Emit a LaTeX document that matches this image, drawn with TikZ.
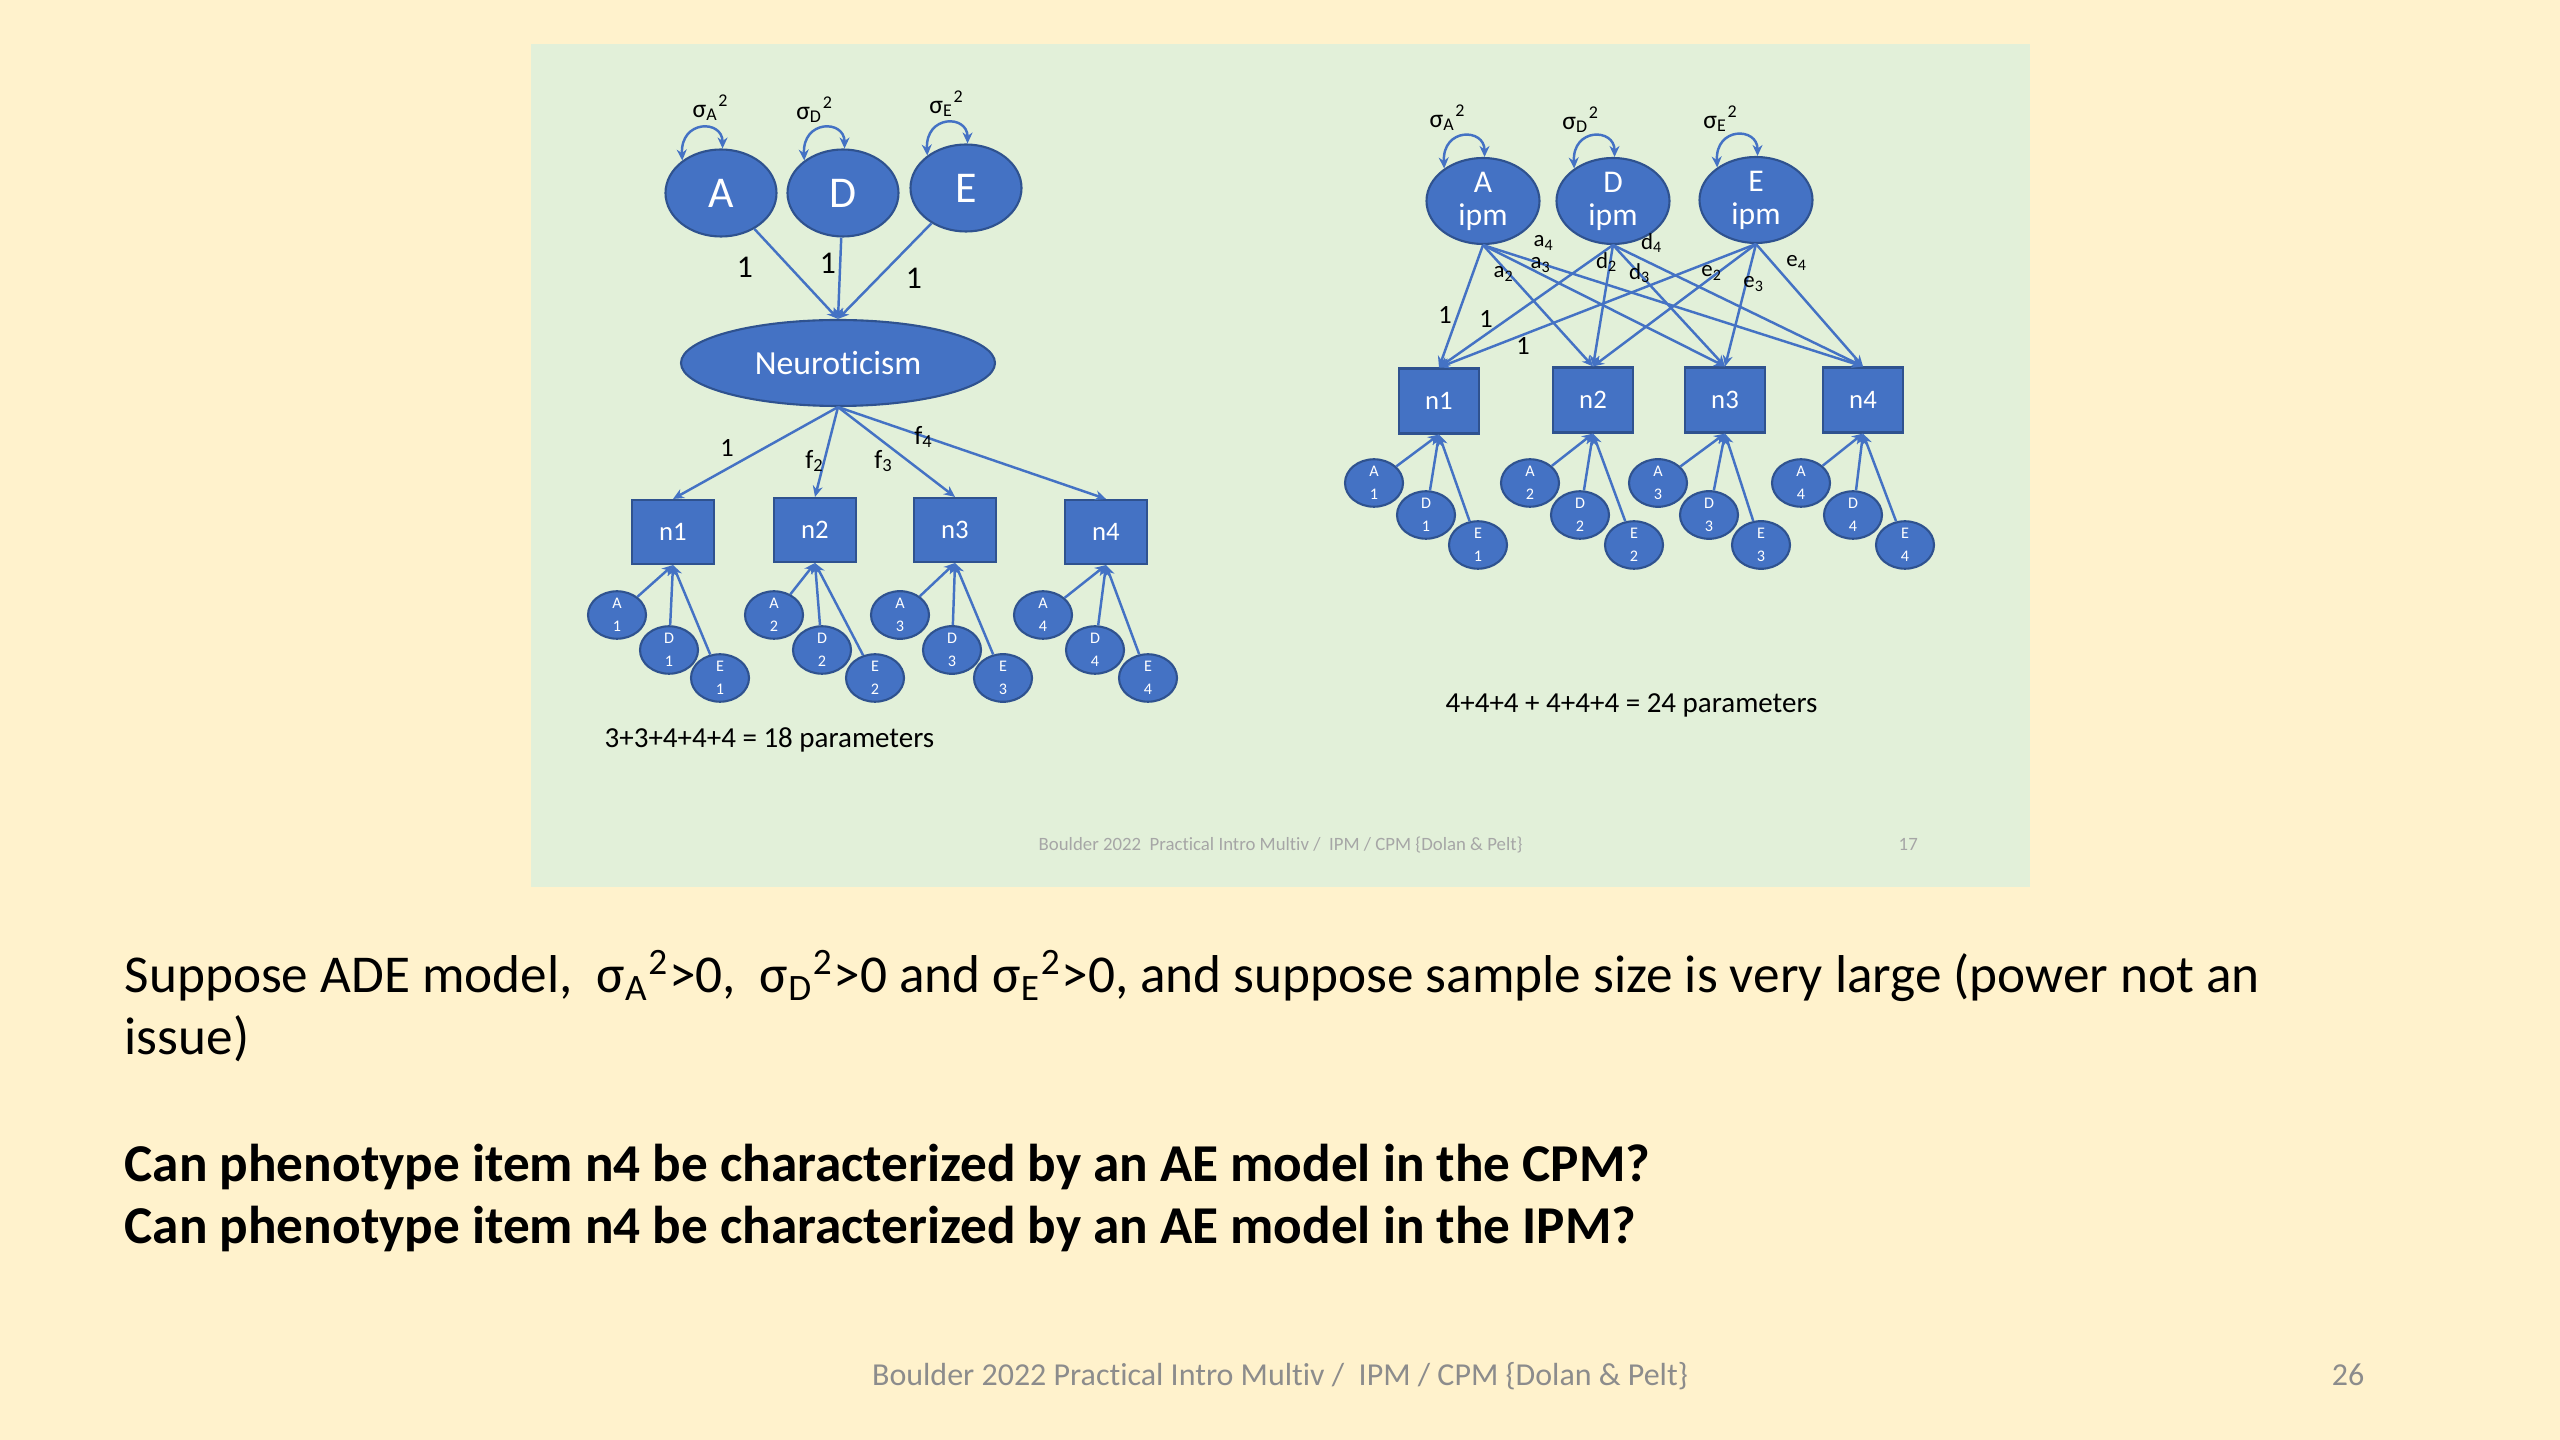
\documentclass[tikz,border=0pt]{standalone}
\usepackage{fontspec}
\setmainfont{Carlito}[Ligatures=CommonOff]
\usetikzlibrary{shapes.geometric,arrows.meta}
\definecolor{bgcream}{HTML}{FFF2CC}
\definecolor{panel}{HTML}{E2F0D9}
\definecolor{oblue}{HTML}{4472C4}
\definecolor{oborder}{HTML}{2F528F}
\definecolor{ftgray}{HTML}{8C8C8C}
\definecolor{ftlight}{HTML}{A6A6A6}
\begin{document}
\begin{tikzpicture}[x=0.1mm,y=-0.1mm,
  shp/.style={fill=oblue,draw=oborder,line width=0.6pt,text=white,inner sep=0pt},
  lat/.style={shp,ellipse,minimum width=11.1mm,minimum height=8.7mm,font=\fontsize{12.5}{14}\selectfont},
  ipm/.style={shp,ellipse,minimum width=11.3mm,minimum height=8.6mm,align=center,font=\fontsize{9}{9.4}\selectfont},
  neuro/.style={shp,ellipse,minimum width=31.4mm,minimum height=8.6mm,font=\fontsize{9.6}{11}\selectfont},
  obs/.style={shp,rectangle,minimum width=8.2mm,minimum height=6.4mm,font=\fontsize{7.6}{9}\selectfont},
  obsr/.style={shp,rectangle,minimum width=8.0mm,minimum height=6.5mm,font=\fontsize{7.6}{9}\selectfont},
  res/.style={shp,ellipse,minimum width=5.8mm,minimum height=4.4mm,align=center,font=\fontsize{4.6}{6.6}\selectfont},
  conn/.style={draw=oblue,line width=0.7pt,-{Stealth[length=1.1mm,width=1mm]}},
  loopar/.style={draw=oblue,line width=0.7pt,{Stealth[length=1.1mm,width=1mm]}-{Stealth[length=1.1mm,width=1mm]}},
  sig/.style={inner sep=0pt,font=\fontsize{7.3}{8}\selectfont},
  lbig/.style={inner sep=0pt,font=\fontsize{9}{10}\selectfont},
  lsm/.style={inner sep=0pt,font=\fontsize{7.5}{8}\selectfont},
  lpar/.style={inner sep=0pt,anchor=base west,font=\fontsize{8.25}{9}\selectfont},
  lxs/.style={inner sep=0pt,font=\fontsize{6.5}{7}\selectfont},
  body/.style={inner sep=0pt,anchor=base west,font=\fontsize{15.15}{18}\selectfont},
  bodyb/.style={body,font=\fontsize{15.15}{18}\selectfont\bfseries}
]
\fill[bgcream] (0,0) rectangle (2560,1440);
\useasboundingbox (0,0) rectangle (2560,1440);
\fill[panel] (531,44) rectangle (2030,887);

% ---------------- Left diagram (CPM)
\node[lat] (LA) at (721,193) {A};
\node[lat] (LD) at (843,193) {D};
\node[lat] (LE) at (966,188) {E};
\node[sig] (LsA) at (711,108) {σ\textsubscript{A}\textsuperscript{2}};
\node[sig] (LsD) at (815,110) {σ\textsubscript{D}\textsuperscript{2}};
\node[sig] (LsE) at (947,104) {σ\textsubscript{E}\textsuperscript{2}};
\draw[loopar] (LA.140) .. controls +(-2,-41) and +(0,-29) .. (LA.88);
\draw[loopar] (LD.140) .. controls +(-2,-41) and +(0,-29) .. (LD.88);
\draw[loopar] (LE.140) .. controls +(-2,-41) and +(0,-29) .. (LE.88);
\node[neuro] (LN) at (838,363) {Neuroticism};
\draw[conn] (LA) -- (LN.north);
\draw[conn] (LD) -- (LN.north);
\draw[conn] (LE) -- (LN.north);
\node[lbig] (L1a) at (745,267) {1};
\node[lbig] (L1b) at (828,263) {1};
\node[lbig] (L1c) at (914,278) {1};

\node[obs] (Ln1) at (673,532) {n1};
\node[obs] (Ln2) at (815,530) {n2};
\node[obs] (Ln3) at (955,530) {n3};
\node[obs] (Ln4) at (1106,532) {n4};
\draw[conn] (LN.south) -- (Ln1.north);
\draw[conn] (LN.south) -- (Ln2.north);
\draw[conn] (LN.south) -- (Ln3.north);
\draw[conn] (LN.south) -- (Ln4.north);
\node[lsm] (Lf1) at (727,448) {1};
\node[lsm] (Lf2) at (815,461) {f\textsubscript{2}};
\node[lsm] (Lf3) at (884,461) {f\textsubscript{3}};
\node[lsm] (Lf4) at (924,437) {f\textsubscript{4}};

\foreach \i/\xa/\xd/\xe in {1/617/669/720, 2/774/822/875, 3/900/952/1003, 4/1043/1095/1148}{
  \node[res] (LA\i) at (\xa,615) {A\\\i};
  \node[res] (LD\i) at (\xd,650) {D\\\i};
  \node[res] (LE\i) at (\xe,678) {E\\\i};
  \draw[conn] (LA\i) -- (Ln\i.south);
  \draw[conn] (LD\i) -- (Ln\i.south);
  \draw[conn] (LE\i) -- (Ln\i.south);
}
\node[lpar] (Lpar) at (604,748) {3+3+4+4+4 = 18 parameters};

% ---------------- Right diagram (IPM)
\node[ipm] (RA) at (1483,201) {A\\ipm};
\node[ipm] (RD) at (1613,201) {D\\ipm};
\node[ipm] (RE) at (1756,200) {E\\ipm};
\node[sig] (RsA) at (1448,118) {σ\textsubscript{A}\textsuperscript{2}};
\node[sig] (RsD) at (1581,120) {σ\textsubscript{D}\textsuperscript{2}};
\node[sig] (RsE) at (1721,119) {σ\textsubscript{E}\textsuperscript{2}};
\draw[loopar] (RA.140) .. controls +(-2,-41) and +(0,-29) .. (RA.88);
\draw[loopar] (RD.140) .. controls +(-2,-41) and +(0,-29) .. (RD.88);
\draw[loopar] (RE.140) .. controls +(-2,-41) and +(0,-29) .. (RE.88);

\node[obsr] (Rn1) at (1439,401) {n1};
\node[obsr] (Rn2) at (1593,400) {n2};
\node[obsr] (Rn3) at (1725,400) {n3};
\node[obsr] (Rn4) at (1863,400) {n4};
\foreach \s in {RA,RD,RE}{
  \foreach \t in {1,2,3,4}{
    \draw[conn] (\s.south) -- (Rn\t.north);
  }
}
\node[lsm] (R1a) at (1445,315) {1};
\node[lsm] (R1b) at (1486,319) {1};
\node[lsm] (R1c) at (1523,346) {1};
\node[lxs] (Ra2) at (1504,274) {a\textsubscript{2}};
\node[lxs] (Ra3) at (1541,265) {a\textsubscript{3}};
\node[lxs] (Ra4) at (1544,243) {a\textsubscript{4}};
\node[lxs] (Rd2) at (1607,262) {d\textsubscript{2}};
\node[lxs] (Rd3) at (1640,273) {d\textsubscript{3}};
\node[lxs] (Rd4) at (1652,243) {d\textsubscript{4}};
\node[lxs] (Re2) at (1712,273) {e\textsubscript{2}};
\node[lxs] (Re3) at (1754,284) {e\textsubscript{3}};
\node[lxs] (Re4) at (1797,263) {e\textsubscript{4}};

\foreach \i/\xa/\xd/\xe in {1/1374/1426/1478, 2/1530/1580/1634, 3/1658/1709/1761, 4/1801/1853/1905}{
  \node[res] (RA\i) at (\xa,483) {A\\\i};
  \node[res] (RD\i) at (\xd,515) {D\\\i};
  \node[res] (RE\i) at (\xe,545) {E\\\i};
  \draw[conn] (RA\i) -- (Rn\i.south);
  \draw[conn] (RD\i) -- (Rn\i.south);
  \draw[conn] (RE\i) -- (Rn\i.south);
}
\node[lpar] (Rpar) at (1445,713) {4+4+4 + 4+4+4 = 24 parameters};

% panel footer
\node[inner sep=0pt,anchor=base west,text=ftlight,font=\fontsize{5.35}{6}\selectfont] (pf) at (1038,851) {Boulder 2022\ \ Practical Intro Multiv /\ \ IPM / CPM \{Dolan \& Pelt\}};
\node[inner sep=0pt,anchor=base west,text=ftlight,font=\fontsize{5.35}{6}\selectfont] (pn) at (1898,851) {17};

% ---------------- Bottom text
\node[body] (t1) at (124,993) {Suppose ADE model,\ \ σ\textsubscript{A}\textsuperscript{2}>0,\ \ σ\textsubscript{D}\textsuperscript{2}>0 and σ\textsubscript{E}\textsuperscript{2}>0, and suppose sample size is very large (power not an};
\node[body] (t2) at (124,1055) {issue)};
\node[bodyb] (t3) at (124,1182) {Can phenotype item n4 be characterized by an AE model in the CPM?};
\node[bodyb] (t4) at (124,1243) {Can phenotype item n4 be characterized by an AE model in the IPM?};

\node[inner sep=0pt,anchor=base,text=ftgray,font=\fontsize{9.1}{10}\selectfont] (ft) at (1280,1385) {Boulder 2022 Practical Intro Multiv /\ \ IPM / CPM \{Dolan \& Pelt\}};
\node[inner sep=0pt,anchor=base,text=ftgray,font=\fontsize{9.1}{10}\selectfont] (pg) at (2348,1385) {26};
\end{tikzpicture}
\end{document}
